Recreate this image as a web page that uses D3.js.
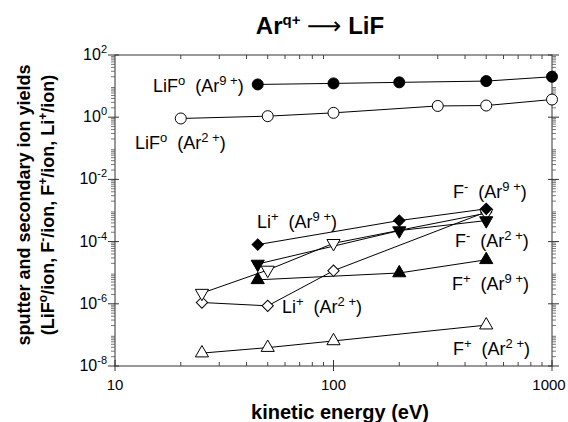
<html>
<head>
    <style>
        body {
            margin: 0;
            background-color: white;
        }
        text {
            font-family: "Liberation Sans", Arial, sans-serif;
            fill: black;
        }
    </style>
</head>
<body>
<svg id="container" width="568" height="422" xmlns="http://www.w3.org/2000/svg">
    <g id="frame"></g>
    <g id="body"></g>
    <g id="labels"></g>
</svg>
<script src="https://cdn.jsdelivr.net/npm/d3@7"></script>
<script>
    // values (energy in eV, yields per ion)
    let eLiF9 = [45, 100, 200, 500, 1000]
    let yLiF9 = [11.3, 12.2, 13.2, 14.5, 20]
    let eLiF2 = [20, 50, 100, 300, 500, 1000]
    let yLiF2 = [0.91, 1.08, 1.38, 2.3, 2.37, 3.7]
    let eLi9 = [45, 200, 500]
    let yLi9 = [8e-5, 4.75e-4, 1.13e-3]
    let eFm9 = [45, 200, 500]
    let yFm9 = [1.9e-5, 2.26e-4, 4.75e-4]
    let eFm2 = [25, 50, 100, 500]
    let yFm2 = [2.2e-6, 1.22e-5, 8.8e-5, 8.2e-4]
    let eLi2 = [25, 50, 100, 500]
    let yLi2 = [1.1e-6, 8.6e-7, 1.16e-5, 9e-4]
    let eFp9 = [45, 200, 500]
    let yFp9 = [5.9e-6, 9.8e-6, 2.6e-5]
    let eFp2 = [25, 50, 100, 500]
    let yFp2 = [2.6e-8, 3.9e-8, 6.4e-8, 2.06e-7]

    let xTicks = [10, 100, 1000]
    let yExponents = [2, 0, -2, -4, -6, -8]

    let series = [
        {e: eLiF9, y: yLiF9, shape: "circle", filled: true},
        {e: eLiF2, y: yLiF2, shape: "circle", filled: false},
        {e: eLi2, y: yLi2, shape: "diamond", filled: false},
        {e: eFm2, y: yFm2, shape: "down", filled: false},
        {e: eFp9, y: yFp9, shape: "up", filled: true},
        {e: eFm9, y: yFm9, shape: "down", filled: true},
        {e: eLi9, y: yLi9, shape: "diamond", filled: true},
        {e: eFp2, y: yFp2, shape: "up", filled: false}
    ]

    // [text, superscript?] pieces, then position of the label
    let labels = [
        {parts: [["LiF", 0], ["o", 1], ["  (Ar", 0], ["9 +", 1], [")", 0]], x: 153, y: 92},
        {parts: [["LiF", 0], ["o", 1], ["  (Ar", 0], ["2 +", 1], [")", 0]], x: 135, y: 149},
        {parts: [["Li", 0], ["+", 1], ["  (Ar", 0], ["9 +", 1], [")", 0]], x: 257, y: 228},
        {parts: [["Li", 0], ["+", 1], ["  (Ar", 0], ["2 +", 1], [")", 0]], x: 282, y: 313},
        {parts: [["F", 0], ["-", 1], ["  (Ar", 0], ["9 +", 1], [")", 0]], x: 453, y: 198},
        {parts: [["F", 0], ["-", 1], ["  (Ar", 0], ["2 +", 1], [")", 0]], x: 455, y: 247},
        {parts: [["F", 0], ["+", 1], ["  (Ar", 0], ["9 +", 1], [")", 0]], x: 452, y: 290},
        {parts: [["F", 0], ["+", 1], ["  (Ar", 0], ["2 +", 1], [")", 0]], x: 453, y: 355}
    ]

    let plotLeft = 115, plotRight = 552, plotTop = 55, plotBottom = 366

    let xScale = d3.scaleLog().domain([10, 1000]).range([plotLeft, plotRight])
    let yScale = d3.scaleLog().domain([1e-8, 1e2]).range([plotBottom, plotTop])

    let svg = d3.select("#container")
    let frame = d3.select("#frame")
    let body = d3.select("#body")

    // box
    frame.append("rect")
        .attr("x", plotLeft).attr("y", plotTop)
        .attr("width", plotRight - plotLeft).attr("height", plotBottom - plotTop)
        .attr("fill", "none").attr("stroke", "#333").attr("stroke-width", 1)

    // x ticks (bottom and top)
    let xMinor = []
    for (let d = 10; d < 1000; d *= 10) {
        for (let m = 2; m <= 9; m++) xMinor.push(d * m)
    }
    frame.selectAll("line.xminor").data(xMinor).enter().append("line")
        .attr("x1", d => xScale(d)).attr("x2", d => xScale(d))
        .attr("y1", plotBottom).attr("y2", plotBottom - 4)
        .attr("stroke", "#444")
    frame.selectAll("line.xminorTop").data(xMinor).enter().append("line")
        .attr("x1", d => xScale(d)).attr("x2", d => xScale(d))
        .attr("y1", plotTop).attr("y2", plotTop + 4)
        .attr("stroke", "#444")
    frame.selectAll("line.xmajor").data(xTicks).enter().append("line")
        .attr("x1", d => xScale(d)).attr("x2", d => xScale(d))
        .attr("y1", plotBottom - 6).attr("y2", plotBottom + 5)
        .attr("stroke", "#333")
    // the last label would run off the page, so it is pulled in a bit
    frame.selectAll("text.xlabel").data(xTicks).enter().append("text")
        .attr("x", d => Math.min(xScale(d), 549)).attr("y", 390)
        .attr("text-anchor", "middle")
        .style("font-size", "15px")
        .text(d => d)

    // y ticks (left and right)
    let yMinor = []
    for (let p = -8; p < 2; p++) {
        for (let m = 2; m <= 9; m++) yMinor.push(m * Math.pow(10, p))
    }
    frame.selectAll("line.yminor").data(yMinor).enter().append("line")
        .attr("x1", plotLeft - 4).attr("x2", plotLeft)
        .attr("y1", d => yScale(d)).attr("y2", d => yScale(d))
        .attr("stroke", "#555").attr("stroke-width", 0.8)
    frame.selectAll("line.yminorR").data(yMinor).enter().append("line")
        .attr("x1", plotRight).attr("x2", plotRight + 4)
        .attr("y1", d => yScale(d)).attr("y2", d => yScale(d))
        .attr("stroke", "#555").attr("stroke-width", 0.8)
    frame.selectAll("line.ymajor").data(yExponents).enter().append("line")
        .attr("x1", plotLeft - 7).attr("x2", plotLeft + 4)
        .attr("y1", d => yScale(Math.pow(10, d))).attr("y2", d => yScale(Math.pow(10, d)))
        .attr("stroke", "#333")
    frame.selectAll("line.ymajorR").data(yExponents).enter().append("line")
        .attr("x1", plotRight - 4).attr("x2", plotRight + 7)
        .attr("y1", d => yScale(Math.pow(10, d))).attr("y2", d => yScale(Math.pow(10, d)))
        .attr("stroke", "#333")
    let yLab = frame.selectAll("text.ylabel").data(yExponents).enter().append("text")
        .attr("x", plotLeft - 8).attr("y", d => yScale(Math.pow(10, d)) + 5)
        .attr("text-anchor", "end")
        .style("font-size", "16px")
    yLab.append("tspan").text("10")
    yLab.append("tspan").attr("dy", -7).style("font-size", "11px").text(d => d)

    // lines
    let line = d3.line().x(d => xScale(d[0])).y(d => yScale(d[1]))
    body.selectAll("path.series").data(series).enter().append("path")
        .attr("d", s => line(s.e.map((e, i) => [e, s.y[i]])))
        .attr("fill", "none").attr("stroke", "black").attr("stroke-width", 1)

    // markers
    function symbolPath(shape) {
        if (shape == "circle") return d3.symbol(d3.symbolCircle, 95)()
        if (shape == "diamond") return d3.symbol(d3.symbolSquare, 64)()
        return d3.symbol(d3.symbolTriangle, 75)()
    }
    function rotation(shape) {
        if (shape == "down") return " rotate(180)"
        if (shape == "diamond") return " rotate(45)"
        return ""
    }
    series.forEach(s => {
        body.selectAll(null).data(s.e.map((e, i) => [e, s.y[i]])).enter().append("path")
            .attr("d", symbolPath(s.shape))
            .attr("transform", d => `translate(${xScale(d[0])},${yScale(d[1])})` + rotation(s.shape))
            .attr("fill", s.filled ? "black" : "white")
            .attr("stroke", "black").attr("stroke-width", 1)
    })

    // series labels
    let labelGroup = d3.select("#labels")
    labels.forEach(l => {
        let t = labelGroup.append("text").attr("x", l.x).attr("y", l.y)
            .style("font-size", "18px").attr("xml:space", "preserve")
        let up = false
        l.parts.forEach(p => {
            let span = t.append("tspan").text(p[0])
            if (p[1] && !up) { span.attr("dy", -7).style("font-size", "13px"); up = true }
            else if (p[1]) span.style("font-size", "13px")
            else if (up) { span.attr("dy", 7); up = false }
        })
    })

    // title
    let title = svg.append("text")
        .attr("x", 320).attr("y", 34)
        .attr("text-anchor", "middle")
        .style("font-size", "24px").style("font-weight", "bold")
    title.append("tspan").text("Ar")
    title.append("tspan").attr("dy", -9).style("font-size", "15px").text("q+")
    title.append("tspan").attr("dy", 9).text(" ")
    title.append("tspan").style("font-family", "DejaVu Sans").style("font-weight", "normal").text("\u27F6")
    title.append("tspan").text(" LiF")

    // axis titles
    svg.append("text")
        .attr("x", 340).attr("y", 419)
        .attr("text-anchor", "middle")
        .style("font-size", "20px").style("font-weight", "bold")
        .text("kinetic energy (eV)")

    let yTitle = svg.append("g").attr("transform", "translate(0,205) rotate(-90)")
    yTitle.append("text")
        .attr("x", 0).attr("y", 30)
        .attr("text-anchor", "middle")
        .style("font-size", "18px").style("font-weight", "bold")
        .text("sputter and secondary ion yields")
    let t2 = yTitle.append("text")
        .attr("x", 0).attr("y", 54)
        .attr("text-anchor", "middle")
        .style("font-size", "18px").style("font-weight", "bold")
    t2.append("tspan").text("(LiF")
    t2.append("tspan").attr("dy", -7).style("font-size", "12px").text("o")
    t2.append("tspan").attr("dy", 7).text("/ion, F")
    t2.append("tspan").attr("dy", -7).style("font-size", "12px").text("-")
    t2.append("tspan").attr("dy", 7).text("/ion, F")
    t2.append("tspan").attr("dy", -7).style("font-size", "12px").text("+")
    t2.append("tspan").attr("dy", 7).text("/ion, Li")
    t2.append("tspan").attr("dy", -7).style("font-size", "12px").text("+")
    t2.append("tspan").attr("dy", 7).text("/ion)")
</script>
</body>
</html>
